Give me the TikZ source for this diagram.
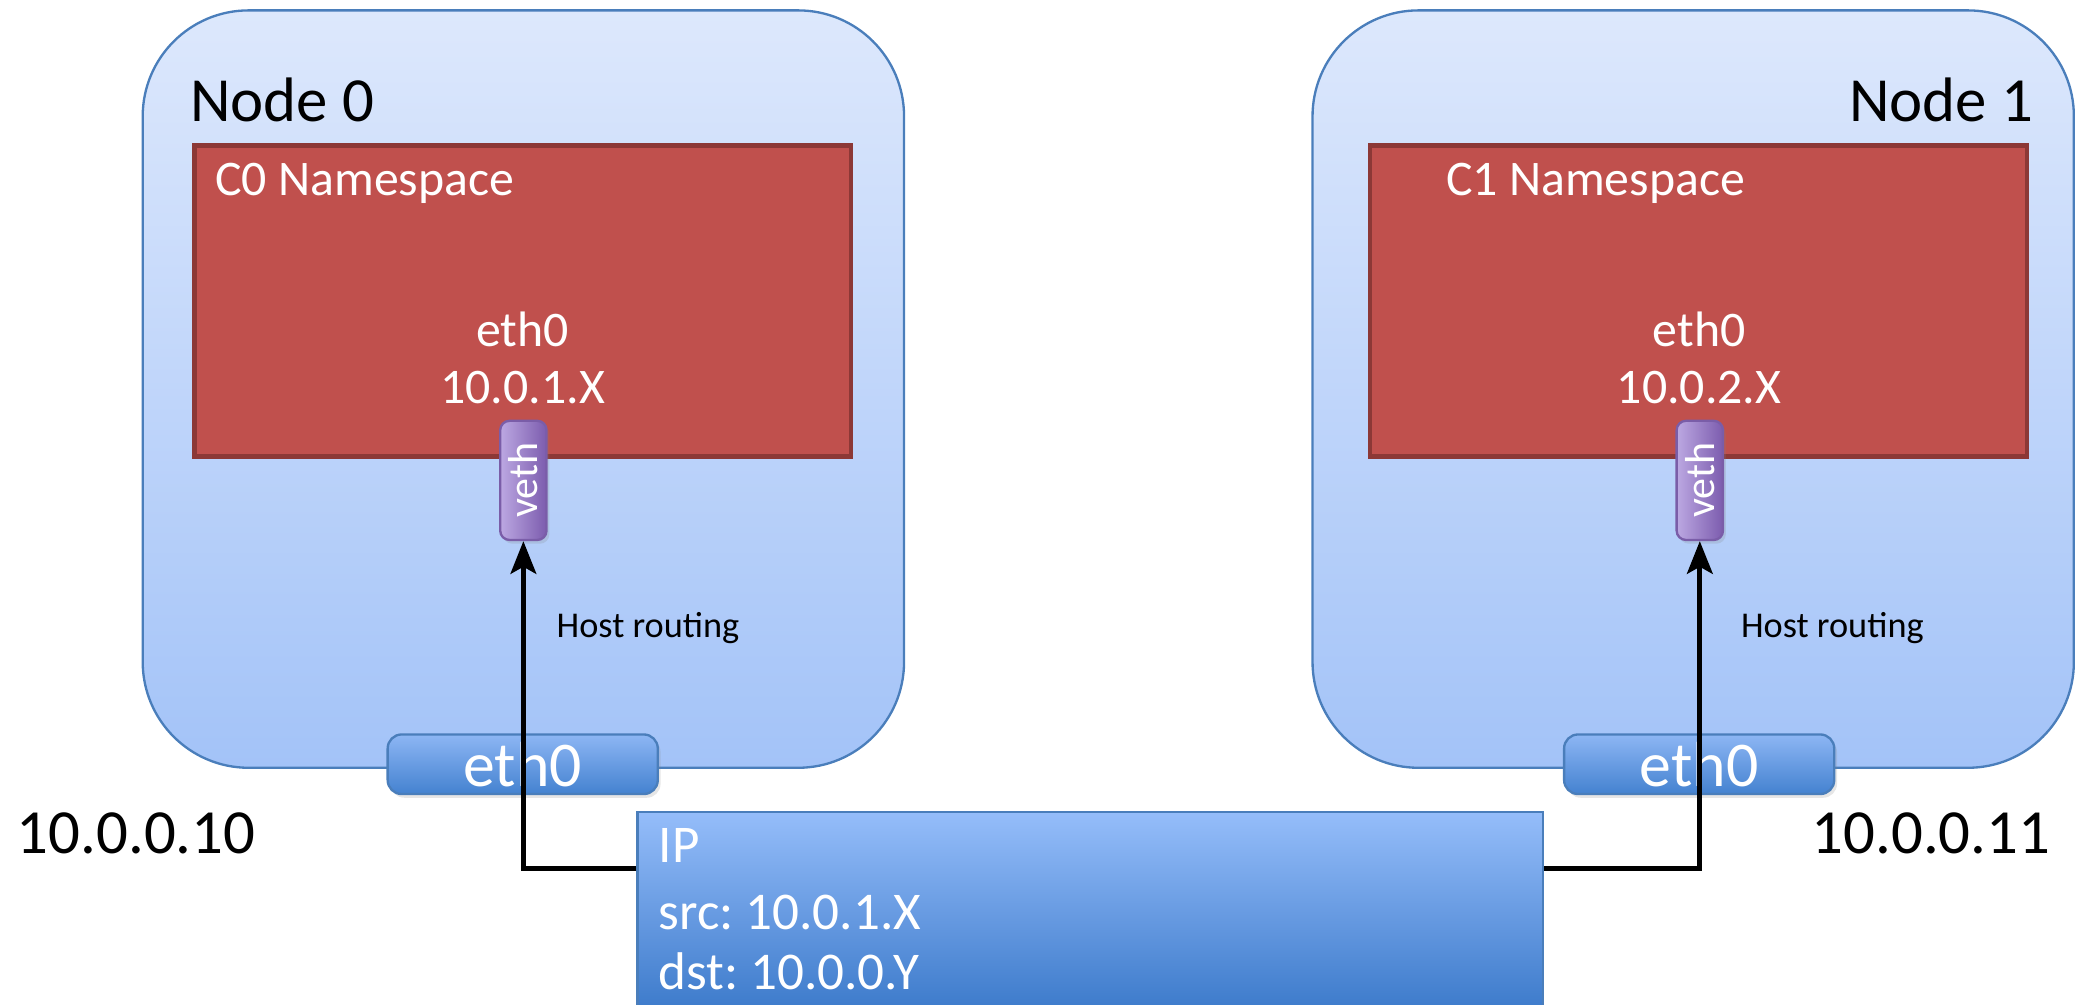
\documentclass[tikz,border=0pt]{standalone}
\usepackage{fontspec}
\setmainfont{Carlito}
\frenchspacing
\usetikzlibrary{arrows.meta,shadows}

\definecolor{hosttop}{HTML}{DDE8FC}
\definecolor{hostbot}{HTML}{A3C3F8}
\definecolor{hostedge}{HTML}{4A7EBB}
\definecolor{nsfill}{HTML}{C0504D}
\definecolor{nsedge}{HTML}{8C3836}
\definecolor{vethleft}{HTML}{BCA8E2}
\definecolor{vethright}{HTML}{7C5CAE}
\definecolor{vethedge}{HTML}{7A5DA8}
\definecolor{ethtop}{HTML}{8DB6F4}
\definecolor{ethbot}{HTML}{4482D0}
\definecolor{iptop}{HTML}{95BDFA}
\definecolor{ipbot}{HTML}{3D7BCB}

\tikzset{
  hostbox/.style={draw=hostedge, line width=0.5pt, rounded corners=0.8cm,
    top color=hosttop, bottom color=hostbot,
    minimum width=5.75cm, minimum height=5.72cm, inner sep=0pt},
  nsbox/.style={draw=nsedge, line width=1pt, fill=nsfill,
    minimum width=4.96cm, minimum height=2.35cm, inner sep=0pt},
  vethbox/.style={draw=vethedge, line width=0.5pt, rounded corners=2pt,
    left color=vethleft, right color=vethright,
    drop shadow={opacity=0.2, shadow xshift=0.6pt, shadow yshift=-0.8pt},
    minimum width=0.35cm, minimum height=0.9cm, inner sep=0pt,
    text=white, font=\fontsize{9}{10}\selectfont},
  ethbox/.style={draw=hostedge, line width=0.5pt, rounded corners=3pt,
    top color=ethtop, bottom color=ethbot,
    drop shadow={opacity=0.2, shadow xshift=0.6pt, shadow yshift=-0.8pt},
    minimum width=2.04cm, minimum height=0.45cm, inner sep=0pt,
    text=white, font=\fontsize{13.7}{14}\selectfont},
  ipbox/.style={draw=hostedge, line width=0.5pt, top color=iptop, bottom color=ipbot,
    minimum width=6.84cm, minimum height=1.49cm, inner sep=0pt},
  bigtext/.style={inner sep=0pt, font=\fontsize{13.5}{14}\selectfont},
  nstext/.style={inner sep=0pt, text=white, font=\fontsize{10.7}{12}\selectfont},
  iptext/.style={inner sep=0pt, text=white, font=\fontsize{11.4}{13}\selectfont},
  smalltext/.style={inner sep=0pt, font=\fontsize{7.8}{9}\selectfont},
  route/.style={line width=1.1pt, -{Stealth[length=7pt,width=5.5pt,inset=1.5pt]}}
}

\begin{document}
\begin{tikzpicture}[x=0.01cm, y=-0.01cm]
  \useasboundingbox (0,0) rectangle (1568,759);

  \node[hostbox] (host0) at (395.5,294) {};
  \node[hostbox] (host1) at (1279.5,294) {};
  \node[bigtext, anchor=base west] (name0) at (143,92) {Node 0};
  \node[bigtext, anchor=base east] (name1) at (1537,92) {Node 1};

  \node[nsbox] (ns0) at (395,227.5) {};
  \node[nsbox] (ns1) at (1283.5,227.5) {};
  \node[nstext, anchor=base west] (nsname0) at (162,148) {C0 Namespace};
  \node[nstext, anchor=base west] (nsname1) at (1092,148) {C1 Namespace};
  \node[nstext, anchor=base] (ceth0) at (395,262) {eth0};
  \node[nstext, anchor=base] (caddr0) at (395,305) {10.0.1.X};
  \node[nstext, anchor=base] (ceth1) at (1284,262) {eth0};
  \node[nstext, anchor=base] (caddr1) at (1284,305) {10.0.2.X};

  \node[vethbox] (veth0) at (395.5,363) {\rotatebox{90}{veth}};
  \node[vethbox] (veth1) at (1284.5,363) {\rotatebox{90}{veth}};

  \node[smalltext, anchor=base west] (hr0) at (420,482) {Host routing};
  \node[smalltext, anchor=base west] (hr1) at (1315,482) {Host routing};

  \node[ethbox] (heth0) at (395,577.5) {eth0};
  \node[ethbox] (heth1) at (1284,577.5) {eth0};
  \node[bigtext, anchor=base west] (haddr0) at (12,645) {10.0.0.10};
  \node[bigtext, anchor=base east] (haddr1) at (1550,645) {10.0.0.11};

  \node[ipbox] (ip) at (824,688) {};
  \node[iptext, anchor=base west] (iphdr) at (497,652) {IP};
  \node[iptext, anchor=base west] (ipsrc) at (497,702) {src: 10.0.1.X};
  \node[iptext, anchor=base west] (ipdst) at (497,748) {dst: 10.0.0.Y};

  \draw[route] ([yshift=-0.44cm]ip.north west) -| (veth0.south);
  \draw[route] ([yshift=-0.44cm]ip.north east) -| (veth1.south);
\end{tikzpicture}
\end{document}
